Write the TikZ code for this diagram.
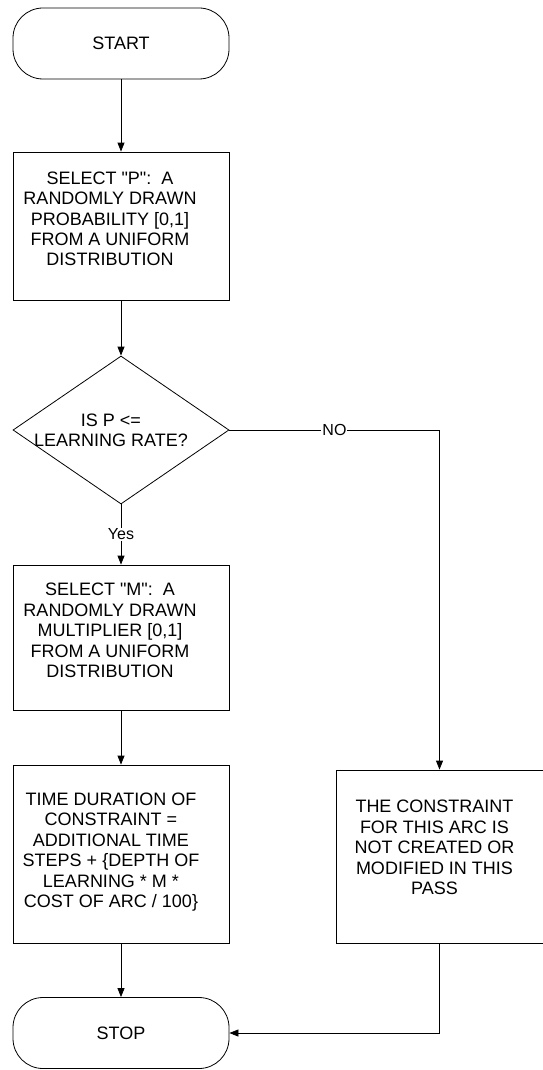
\documentclass[tikz,border=0pt]{standalone}
\usepackage{fontspec}
\setmainfont{Liberation Sans}
\usetikzlibrary{shapes.geometric,arrows.meta}

\tikzset{
  txt/.style={font=\fontsize{18}{20.4}\selectfont, align=center},
  term/.style={draw, txt, rounded corners=30pt, minimum width=216pt, minimum height=71pt, inner sep=0pt},
  proc/.style={draw, minimum width=216pt, inner sep=0pt},
  decision/.style={draw, diamond, minimum width=216pt, minimum height=148pt, inner sep=0pt},
  line/.style={draw, line width=0.8pt, -{Triangle[length=9pt,width=7pt]}},
  lbl/.style={fill=white, inner sep=1pt, font=\fontsize{16}{18}\selectfont}
}

\begin{document}
\begin{tikzpicture}[x=1pt, y=-1pt, line width=0.8pt]
    \useasboundingbox (0,0) rectangle (543,1070);

    % left column
    \node[term] (start) at (121,43.5) {START};
    \node[proc, minimum height=148pt] (selp) at (121,226) {};
    \node[txt] (selptext) at ([shift={(-11,-7)}]selp.center)
      {SELECT \textquotedbl P\textquotedbl:\ \ A\\RANDOMLY DRAWN\\PROBABILITY [0,1]\\FROM A UNIFORM\\DISTRIBUTION};
    \node[decision] (dec) at (121,430) {};
    \node[txt] (dectext) at ([shift={(-10,0)}]dec.center) {IS P <=\\LEARNING RATE?};
    \node[proc, minimum height=145pt] (selm) at (121,637.5) {};
    \node[txt] (selmtext) at ([shift={(-11,-7)}]selm.center)
      {SELECT \textquotedbl M\textquotedbl:\ \ A\\RANDOMLY DRAWN\\MULTIPLIER [0,1]\\FROM A UNIFORM\\DISTRIBUTION};
    \node[proc, minimum height=178pt] (dur) at (121,854) {};
    \node[txt] (durtext) at ([shift={(-10,-2)}]dur.center)
      {TIME DURATION OF\\CONSTRAINT =\\ADDITIONAL TIME\\STEPS + \{DEPTH OF\\LEARNING * M *\\COST OF ARC / 100\}};
    \node[term] (stop) at (121,1033) {STOP};

    % right column
    \node[proc, minimum width=207pt, minimum height=173pt] (noarc) at (439.5,856.5) {};
    \node[txt] (noarctext) at ([shift={(-5,-9)}]noarc.center)
      {THE CONSTRAINT\\FOR THIS ARC IS\\NOT CREATED OR\\MODIFIED IN THIS\\PASS};

    % connectors
    \draw[line] (start) -- (selp);
    \draw[line] (selp) -- (dec.north);
    \draw[line] (dec.south) -- node[lbl] {Yes} (selm);
    \draw[line] (selm) -- (dur);
    \draw[line] (dur) -- (stop);
    \draw[line] (dec.east) -| node[lbl, pos=0.25] {NO} (noarc.north);
    \draw[line] (noarc.south) |- (stop.east);
\end{tikzpicture}
\end{document}
